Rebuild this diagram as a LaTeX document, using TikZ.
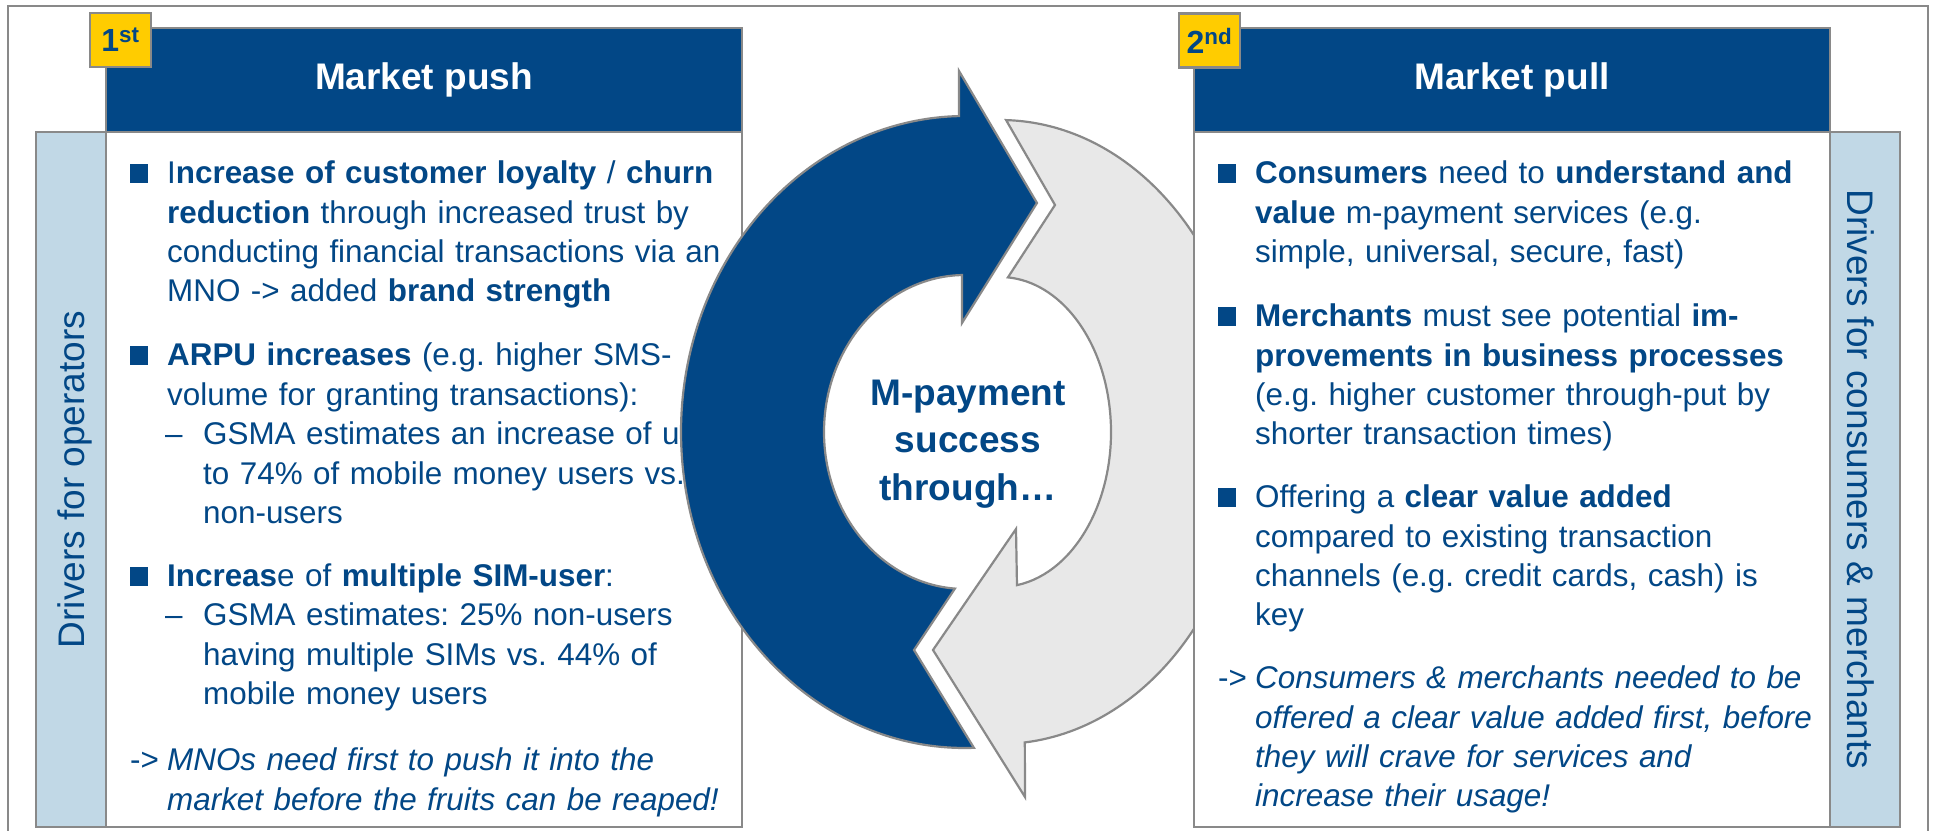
\documentclass[tikz,border=0pt]{standalone}
\usepackage{fontspec}
\setmainfont{Liberation Sans}
\usetikzlibrary{
  positioning,  % Function "of" (e.g. [above=0pt of x])
}
\frenchspacing
\definecolor{mpblue}{RGB}{2,71,134}
\definecolor{barblue}{RGB}{193,216,230}
\definecolor{linegray}{RGB}{137,137,137}
\definecolor{arrowgray}{RGB}{232,232,232}
\definecolor{rankyellow}{RGB}{255,204,0}
\newcommand{\txtfont}{\fontsize{31.4}{39.3}\selectfont}
\def\mylw{2.2pt}
\def\mypanelw{636pt}
\def\mypanelh{695pt}
\tikzset{
  my frame/.style={
    draw=linegray,
    line width=\mylw
  },
  panel/.style={
    my frame,
    fill=white,
    minimum width=\mypanelw,
    minimum height=\mypanelh,
    inner sep=0pt,
    outer sep=0pt
  },
  header/.style={
    my frame,
    fill=mpblue,
    text=white,
    font=\fontsize{37}{37}\selectfont\bfseries,
    minimum width=\mypanelw,
    minimum height=104pt,
    inner sep=0pt,
    outer sep=0pt
  },
  side bar/.style={
    my frame,
    fill=barblue,
    minimum width=70pt,
    minimum height=\mypanelh,
    inner sep=0pt,
    outer sep=0pt
  },
  side text/.style={
    text=mpblue,
    font=\fontsize{37}{37}\selectfont,
    inner sep=0pt
  },
  rank/.style={
    my frame,
    fill=rankyellow,
    text=mpblue,
    font=\fontsize{32}{32}\selectfont\bfseries,
    minimum width=61pt,
    minimum height=54pt,
    inner sep=0pt
  },
  para/.style={
    text=mpblue,
    font=\txtfont,
    text width=620pt,
    align=left,
    inner sep=0pt,
    anchor=base west
  },
  bullet/.style={
    fill=mpblue,
    minimum size=18.5pt,
    inner sep=0pt
  },
  lead/.style={
    text=mpblue,
    font=\txtfont,
    inner sep=0pt,
    anchor=base west
  },
  push arrow/.style={
    my frame,
    fill=mpblue
  },
  pull arrow/.style={
    my frame,
    fill=arrowgray
  },
  hub/.style={
    text=mpblue,
    font=\fontsize{37}{47.5}\selectfont\bfseries,
    align=center,
    inner sep=0pt
  }
}

\begin{document}
\begin{tikzpicture}[x=1pt,y=1pt]
\useasboundingbox (0,0) rectangle (1933,830);
\draw[my frame] (8,-5) -- (8,824) -- (1928,824) -- (1928,-5);

% 1st: market push
\node[panel]                          (pushbody) at (424,350.5) {};
\node[header, above=0pt of pushbody]  (pushhdr)  {Market push};
\node[side bar, left=0pt of pushbody] (opbar)    {};
\node[side text, rotate=90] (optext) at ([xshift=4pt]opbar.center) {Drivers for operators};
\node[rank] (first) at ([shift={(14.5pt,-12pt)}]pushhdr.north west) {1\textsuperscript{st}};

\node[bullet] (b1) at (139,656.7) {};
\node[para]   (p1) at (167,646) {I\textbf{ncrease of customer loyalty} / \textbf{churn}\\
  \textbf{reduction} through increased trust by\\
  conducting financial transactions via an\\
  MNO -> added \textbf{brand strength}};
\node[bullet] (b2) at (139,474.7) {};
\node[para]   (p2) at (167,464) {\textbf{ARPU increases} (e.g. higher SMS-\\
  volume for granting transactions):};
\node[lead]   (d2) at (165,385) {--};
\node[para]   (p2a) at (203,385) {GSMA estimates an increase of up\\
  to 74\% of mobile money users vs.\\
  non-users};
\node[bullet] (b3) at (139,253.7) {};
\node[para]   (p3) at (167,243) {\textbf{Increas}e of \textbf{multiple SIM-user}:};
\node[lead]   (d3) at (165,204) {--};
\node[para]   (p3a) at (203,204) {GSMA estimates: 25\% non-users\\
  having multiple SIMs vs. 44\% of\\
  mobile money users};
\node[lead]   (a4) at (130,59) {->};
\node[para]   (p4) at (167,59) {\itshape MNOs need first to push it into the\\
  market before the fruits can be reaped!};

% circular arrows
\coordinate (dc) at (965,398);
\coordinate (gc) at (1000,398);
\path[pull arrow] ([shift={(88.6:250pt and 312pt)}]gc)
  arc[start angle=88.6, end angle=-84.3, x radius=250pt, y radius=312pt]
  -- (1025,33) -- (933,180) -- (1016,301)
  -- ([shift={(-81.2:111pt and 155pt)}]gc)
  arc[start angle=-81.2, end angle=85.9, x radius=111pt, y radius=155pt]
  -- (1055,625) -- cycle;
\path[push arrow] ([shift={(91.2:284pt and 316pt)}]dc)
  -- (959,759) -- (1037,627) -- (962,507)
  -- ([shift={(91.2:141pt and 157pt)}]dc)
  arc[start angle=91.2, end angle=265.9, x radius=141pt, y radius=157pt]
  -- (914,180)
  -- ([shift={(271.8:284pt and 316pt)}]dc)
  arc[start angle=271.8, end angle=91.2, x radius=284pt, y radius=316pt]
  -- cycle;
\node[hub] (mpay) at (968,386) {M-payment\\success\\through…};

% 2nd: market pull
\node[panel]                           (pullbody) at (1512,350.5) {};
\node[header, above=0pt of pullbody]   (pullhdr)  {Market pull};
\node[side bar, right=0pt of pullbody]  (cmbar)    {};
\node[side text, rotate=-90] (cmtext) at ([xshift=-4.5pt]cmbar.center) {Drivers for consumers \& merchants};
\node[rank] (second) at ([shift={(15.5pt,-12.5pt)}]pullhdr.north west) {2\textsuperscript{nd}};

\node[bullet] (r1b) at (1227,656.7) {};
\node[para]   (r1)  at (1255,646) {\textbf{Consumers} need to \textbf{understand and}\\
  \textbf{value} m-payment services (e.g.\\
  simple, universal, secure, fast)};
\node[bullet] (r2b) at (1227,513.7) {};
\node[para]   (r2)  at (1255,503) {\textbf{Merchants} must see potential \textbf{im-}\\
  \textbf{provements in business processes}\\
  (e.g. higher customer through-put by\\
  shorter transaction times)};
\node[bullet] (r3b) at (1227,332.7) {};
\node[para]   (r3)  at (1255,322) {Offering a \textbf{clear value added}\\
  compared to existing transaction\\
  channels (e.g. credit cards, cash) is\\
  key};
\node[lead]   (r4a) at (1218,141) {->};
\node[para]   (r4)  at (1255,141) {\itshape Consumers \& merchants needed to be\\
  offered a clear value added first, before\\
  they will crave for services and\\
  increase their usage!};
\end{tikzpicture}
\end{document}
